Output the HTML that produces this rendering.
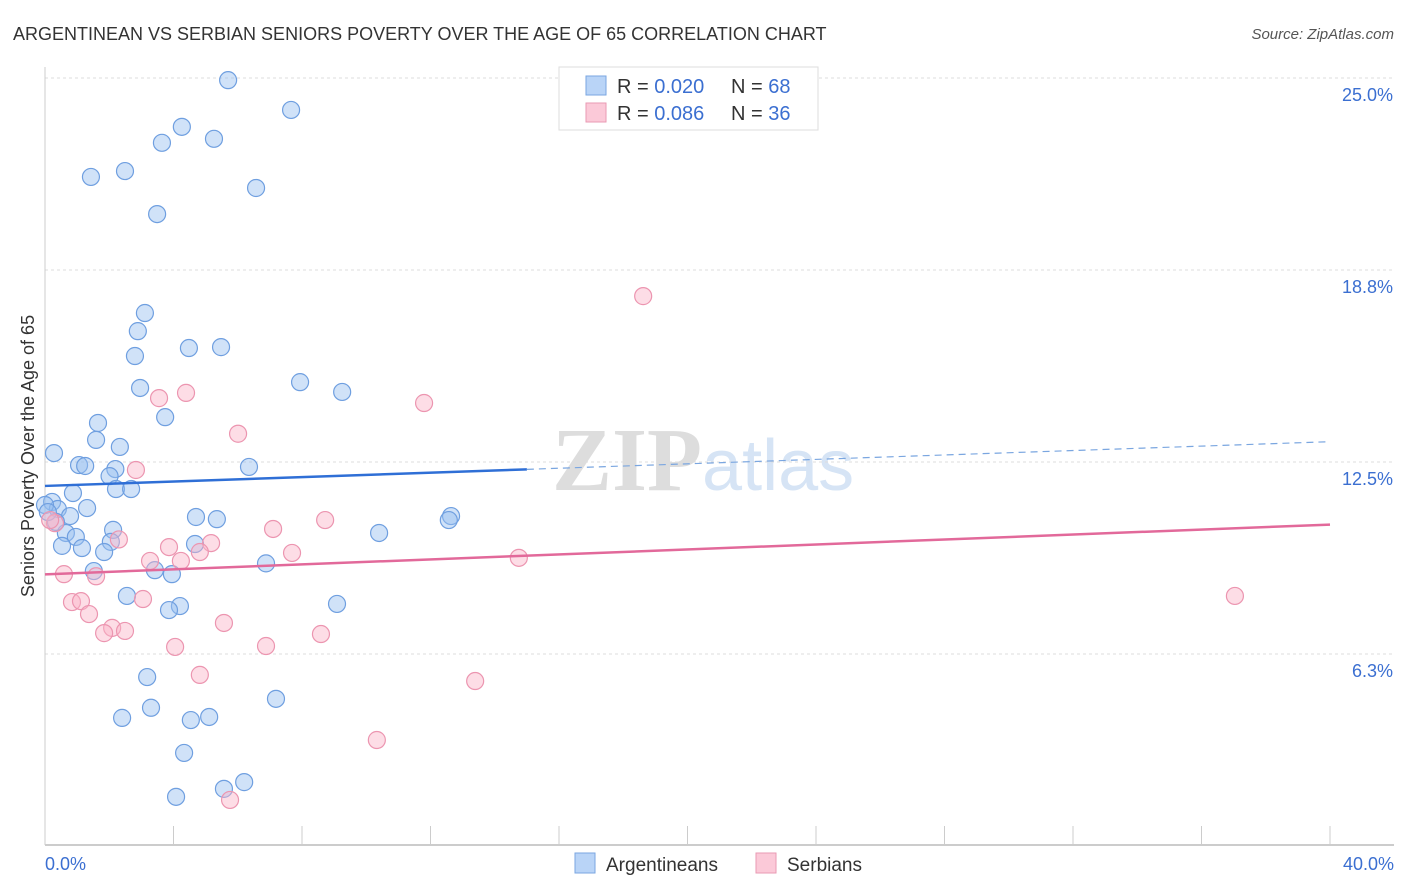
<!DOCTYPE html>
<html><head><meta charset="utf-8"><style>
body{margin:0;background:#fff;font-family:"Liberation Sans",sans-serif}
</style></head><body>
<svg id="c" width="1406" height="892" xmlns="http://www.w3.org/2000/svg" style="display:block">
<text x="13" y="40" font-size="18" fill="#333">ARGENTINEAN VS SERBIAN SENIORS POVERTY OVER THE AGE OF 65 CORRELATION CHART</text>
<text x="1394" y="39" font-size="15" fill="#555" text-anchor="end" font-style="italic">Source: ZipAtlas.com</text>
<text x="552" y="490" font-size="90" fill="#ddd" font-family="Liberation Serif" font-weight="bold">ZIP<tspan fill="#d6e4f5" font-family="Liberation Sans" font-weight="normal" font-size="72">atlas</tspan></text>
<g id="grid"></g><g id="axes"></g><g id="pts"></g><g id="trend"></g>
<text transform="translate(34,456) rotate(-90)" font-size="18" fill="#333" text-anchor="middle">Seniors Poverty Over the Age of 65</text>
<g>
<rect x="559" y="67" width="259" height="63" fill="#fff" stroke="#ddd"/>
<rect x="586" y="76" width="20" height="19" fill="#b9d4f7" stroke="#7aa6e0"/>
<text x="617" y="93" font-size="20" fill="#333">R = <tspan fill="#3b6fd1">0.020</tspan></text>
<text x="731" y="93" font-size="20" fill="#333">N = <tspan fill="#3b6fd1">68</tspan></text>
<rect x="586" y="103" width="20" height="19" fill="#fbc9d8" stroke="#e99ab3"/>
<text x="617" y="120" font-size="20" fill="#333">R = <tspan fill="#3b6fd1">0.086</tspan></text>
<text x="731" y="120" font-size="20" fill="#333">N = <tspan fill="#3b6fd1">36</tspan></text>
</g>
<g><rect x="575" y="853" width="20" height="20" fill="#b9d4f7" stroke="#7aa6e0"/><text x="606" y="871" font-size="19" fill="#333">Argentineans</text></g>
<g><rect x="756" y="853" width="20" height="20" fill="#fbc9d8" stroke="#e99ab3"/><text x="787" y="871" font-size="19" fill="#333">Serbians</text></g>
</svg>
<script>
const yTicks=[25.0,18.8,12.5,6.3];
const yTickVals=[25,18.75,12.5,6.25];
const xTickLabels=["0.0%","40.0%"];
const blueX=[5.7,7.66,4.26,3.64,5.26,1.43,2.49,6.57,3.49,3.11,2.89,2.80,4.48,5.48,7.94,9.25,2.96,3.74,1.65,1.59,2.33,0.28,1.06,1.25,2.19,2.01,6.35,2.21,2.68,0.87,0.22,0.40,1.31,0.78,0.0,4.7,5.35,12.64,12.57,2.12,0.65,0.96,10.4,2.05,4.67,0.53,1.15,1.84,6.88,1.52,3.42,3.95,2.55,4.2,3.86,9.09,3.18,7.19,3.3,2.4,5.11,4.54,4.33,6.2,5.57,4.08,0.34,0.09];
const blueY=[24.93,23.96,23.41,22.89,23.02,21.78,21.97,21.42,20.57,17.35,16.76,15.95,16.21,16.24,15.1,14.78,14.91,13.96,13.77,13.22,12.99,12.79,12.4,12.37,12.27,12.04,12.34,11.62,11.62,11.49,11.2,10.97,11.0,10.74,11.1,10.71,10.64,10.74,10.61,10.29,10.19,10.06,10.19,9.9,9.83,9.77,9.70,9.57,9.2,8.95,8.98,8.85,8.14,7.81,7.68,7.88,5.5,4.79,4.5,4.17,4.2,4.1,3.03,2.08,1.86,1.6,10.55,10.87];
const pinkX=[18.62,4.39,3.55,11.8,6.01,2.83,2.3,7.1,8.72,5.17,3.86,4.82,3.27,7.69,4.23,14.75,0.59,1.59,0.84,1.12,3.05,1.37,2.09,2.49,1.84,5.57,8.59,4.05,6.88,4.82,13.39,10.33,5.76,37.04,0.31,0.16];
const pinkY=[17.9,14.75,14.58,14.42,13.42,12.24,9.98,10.32,10.61,9.86,9.73,9.57,9.28,9.54,9.28,9.38,8.85,8.78,7.94,7.97,8.04,7.55,7.1,7.0,6.93,7.26,6.9,6.48,6.51,5.57,5.37,3.45,1.5,8.14,10.51,10.61];
const X=v=>45+v*32.125, Y=v=>846-v*30.72;
const NS="http://www.w3.org/2000/svg";
function mk(t,a,p){const e=document.createElementNS(NS,t);for(const k in a)e.setAttribute(k,a[k]);p.appendChild(e);return e;}
const grid=document.getElementById('grid'),axes=document.getElementById('axes'),pts=document.getElementById('pts'),tr=document.getElementById('trend');
yTickVals.forEach((v,i)=>{const l=mk('line',{x1:45,x2:1394,y1:Y(v),y2:Y(v),stroke:'#ddd','stroke-dasharray':'3,3'},grid);

const t=mk('text',{x:1393,y:Y(v)+23,'font-size':18,fill:'#3b6fd1','text-anchor':'end'},grid);t.textContent=yTicks[i].toFixed(1)+'%';
});
const ax=mk('line',{x1:45,x2:1394,y1:845,y2:845,stroke:'#bbb','stroke-width':1.5},axes);

const ay=mk('line',{x1:45,x2:45,y1:67,y2:845,stroke:'#ccc'},axes);

for(let i=1;i<=10;i++){const tk=mk('line',{x1:X(i*4),x2:X(i*4),y1:826,y2:845,stroke:'#ccc'},axes);
}
[[0,'start',45],[1,'end',1394]].forEach(([i,a,x])=>{const t=mk('text',{x:x,y:870,'font-size':18,fill:'#3b6fd1','text-anchor':a},axes);t.textContent=xTickLabels[i];
});
blueX.forEach((v,i)=>{const c=mk('circle',{cx:X(v),cy:Y(blueY[i]),r:8.5,fill:'rgba(150,190,240,0.45)',stroke:'#6f9fe0','stroke-width':1.2},pts);
});
pinkX.forEach((v,i)=>{const c=mk('circle',{cx:X(v),cy:Y(pinkY[i]),r:8.5,fill:'rgba(250,180,200,0.45)',stroke:'#ec95b0','stroke-width':1.2},pts);
});
function fit(xs,ys){const n=xs.length,mx=xs.reduce((a,b)=>a+b)/n,my=ys.reduce((a,b)=>a+b)/n;let sxy=0,sxx=0;xs.forEach((x,i)=>{sxy+=(x-mx)*(ys[i]-my);sxx+=(x-mx)**2});const b=sxy/sxx;return[my-b*mx,b];}
let [a1,b1]=fit(blueX,blueY);let [a2,b2]=fit(pinkX,pinkY);
let l=mk('line',{x1:X(0),y1:Y(a1),x2:X(15),y2:Y(a1+b1*15),stroke:'#2f6fd6','stroke-width':2.5},tr);

l=mk('line',{x1:X(15),y1:Y(a1+b1*15),x2:X(40),y2:Y(a1+b1*40),stroke:'#7aa6e0','stroke-width':1.2,'stroke-dasharray':'7,5'},tr);

l=mk('line',{x1:X(0),y1:Y(a2),x2:X(40),y2:Y(a2+b2*40),stroke:'#e2699a','stroke-width':2.5},tr);

</script>
</body></html>
